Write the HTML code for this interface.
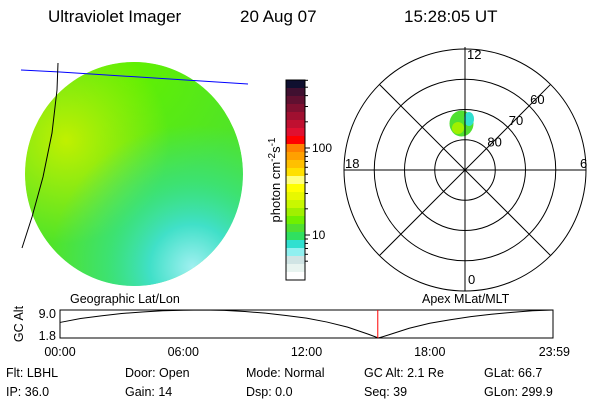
<!DOCTYPE html>
<html><head><meta charset="utf-8"><style>
body{margin:0;background:#fff;width:600px;height:400px;overflow:hidden}
svg{font-family:"Liberation Sans",sans-serif}
</style></head><body>
<svg id="c" width="600" height="400" xmlns="http://www.w3.org/2000/svg">
<defs>
<radialGradient id="g1" cx="0.2" cy="0.35" r="0.45"><stop offset="0" stop-color="#c0f000"/><stop offset="1" stop-color="#c0f000" stop-opacity="0"/></radialGradient>
<radialGradient id="g0" cx="0.5" cy="0.05" r="0.5"><stop offset="0" stop-color="#60f000"/><stop offset="1" stop-color="#60f000" stop-opacity="0"/></radialGradient>
<radialGradient id="g2" cx="0.75" cy="0.9" r="0.62"><stop offset="0" stop-color="#a0f0f0"/><stop offset="0.3" stop-color="#40e0c8"/><stop offset="0.6" stop-color="#30e0a0" stop-opacity="0.6"/><stop offset="1" stop-color="#30e0a0" stop-opacity="0"/></radialGradient>
<clipPath id="dc"><ellipse cx="134" cy="174" rx="109" ry="112"/></clipPath>
</defs>
<g font-size="17" fill="#000">
<text x="48" y="22">Ultraviolet Imager</text>
<text x="240" y="22">20 Aug 07</text>
<text x="404" y="22">15:28:05 UT</text>
</g>
<g clip-path="url(#dc)">
<ellipse cx="134" cy="174" rx="109" ry="112" fill="#50e428"/>
<rect x="20" y="60" width="230" height="230" fill="url(#g0)"/>
<rect x="20" y="60" width="230" height="230" fill="url(#g1)"/>
<rect x="20" y="60" width="230" height="230" fill="url(#g2)"/>
</g>
<polyline points="21,70 60,72 248,84" fill="none" stroke="#0000ff" stroke-width="1"/>
<polyline points="58,63 57,90 52,133 43,177 32,217 22,248" fill="none" stroke="#000" stroke-width="1"/>
<g id="cbar"></g>
<text transform="translate(280,180) rotate(-90)" text-anchor="middle" font-size="13">photon cm<tspan dy="-5" font-size="10">-2</tspan><tspan dy="5">s</tspan><tspan dy="-5" font-size="10">-1</tspan></text>
<g id="polar"></g>
<g id="tl"></g>
<g font-size="12.5">
<text x="6" y="377">Flt: LBHL</text><text x="125" y="377">Door: Open</text><text x="246" y="377">Mode: Normal</text><text x="364" y="377">GC Alt: 2.1 Re</text><text x="484" y="377">GLat:  66.7</text>
<text x="6" y="396">IP: 36.0</text><text x="125" y="396">Gain: 14</text><text x="246" y="396">Dsp:     0.0</text><text x="364" y="396">Seq: 39</text><text x="484" y="396">GLon: 299.9</text>
</g>
</svg>
<script>
const NS="http://www.w3.org/2000/svg";
function mk(p,t,a,txt){const e=document.createElementNS(NS,t);for(const k in a)e.setAttribute(k,a[k]);if(txt!==undefined)e.textContent=txt;p.appendChild(e);return e;}
// colorbar
const cbColors=["#101030","#401030","#601030","#801030","#a01030","#c01030","#e01030","#ff0000","#ff8000","#ffa000","#ffc000","#ffe000","#ffff80","#ffff00","#e8f800","#c8f800","#a0f000","#70f000","#50e030","#30e060","#30e0d0","#90f0f0","#d0e4e4","#e8f4f0","#ffffff"];
const cbTickLabels=["100","10"];
const cbTickVals=[100,10];
const cb=document.getElementById('cbar');
const cbTop=80,cbBot=280,bh=(cbBot-cbTop)/cbColors.length;
cbColors.forEach((c,i)=>{const r=mk(cb,'rect',{x:286,y:cbTop+i*bh,width:19,height:bh+0.5,fill:c});

});
mk(cb,'rect',{x:286,y:cbTop,width:19,height:200,fill:'none',stroke:'#000'});
function cbY(v){return 148+(2-Math.log10(v))*(235-148);}
[5,6,7,8,9,20,30,40,50,60,70,80,90,200,300,400,500,600].forEach(v=>{const y=cbY(v);if(y>cbTop&&y<cbBot)mk(cb,'line',{x1:305,x2:308,y1:y,y2:y,stroke:'#000'});});
cbTickVals.forEach((v,i)=>{const y=cbY(v);mk(cb,'line',{x1:305,x2:310,y1:y,y2:y,stroke:'#000'});
const t=mk(cb,'text',{x:312,y:y+4,'font-size':12},cbTickLabels[i]);

});
// polar
const latCircles=[80,70,60,50];
const latLabels=["80","70","60"];
const mltLabels=["12","6","0","18"];
const P=document.getElementById('polar');const pcx=465,pcy=170,pr=121;
function rad(lat){return (90-lat)/40*pr;}
mk(P,'ellipse',{cx:461.5,cy:123.5,rx:12,ry:13,fill:'#50e030'});
mk(P,'ellipse',{cx:458,cy:128,rx:6,ry:6,fill:'#a0f000'});
mk(P,'ellipse',{cx:469,cy:119,rx:5,ry:7,fill:'#30e0d0'});
latCircles.forEach(l=>{const c=mk(P,'circle',{cx:pcx,cy:pcy,r:rad(l),fill:'none',stroke:'#000'});

});
mk(P,'line',{x1:pcx,x2:pcx,y1:pcy-pr-2,y2:pcy+pr,stroke:'#000'});
mk(P,'line',{x1:pcx-pr,x2:pcx+pr,y1:pcy,y2:pcy,stroke:'#000'});
const d=pr*Math.SQRT1_2;
mk(P,'line',{x1:pcx-d,y1:pcy-d,x2:pcx+d,y2:pcy+d,stroke:'#000'});
mk(P,'line',{x1:pcx-d,y1:pcy+d,x2:pcx+d,y2:pcy-d,stroke:'#000'});
latLabels.forEach((s,i)=>{const r=rad(latCircles[i]);const t=mk(P,'text',{x:pcx+r*0.707+1,y:pcy-r*0.707-2,'font-size':13,fill:'#000'},s);

});
[[467,59],[580,168],[468,284],[345,168]].forEach((p,i)=>{const t=mk(P,'text',{x:p[0],y:p[1],'font-size':13,fill:'#000'},mltLabels[i]);

});
// timeline
const hours=[0,1,2,3,4,5,6,7,8,9,10,11,12,13,14,15,15.5,16,17,18,19,20,21,22,23,24];
const altRe=[5.8,6.8,7.5,8.1,8.5,8.8,8.95,9.0,8.9,8.6,8.2,7.6,6.9,5.9,4.6,2.8,1.8,2.6,4.3,5.6,6.5,7.3,7.9,8.4,8.8,9.0];
const timeLabels=["00:00","06:00","12:00","18:00","23:59"];
const timeTicks=[0,6,12,18,24];
const altTicks=[9.0,1.8];
const currentHour=15.47;
const T=document.getElementById('tl');const x0=60,x1=553,y0=310,y1=338;
const xs=h=>x0+h/24*(x1-x0);const ys=v=>y1-(v-1.8)/(9.0-1.8)*(y1-y0);
mk(T,'rect',{x:x0,y:y0,width:x1-x0,height:y1-y0,fill:'none',stroke:'#000'});
const pl=mk(T,'polyline',{points:hours.map((h,i)=>xs(h)+','+ys(altRe[i])).join(' '),fill:'none',stroke:'#000'});


const rl=mk(T,'line',{x1:xs(currentHour),x2:xs(currentHour),y1:y0,y2:y1,stroke:'#ff0000'});


altTicks.forEach(v=>{const t=mk(T,'text',{x:56,y:ys(v)+(v>5?8:2),'text-anchor':'end','font-size':12.5},v.toFixed(1));

});
timeTicks.forEach((h,i)=>{const t=mk(T,'text',{x:xs(h)+(i==4?17:0),y:356,'text-anchor':i==4?'end':'middle','font-size':12.5},timeLabels[i]);

});
const ya=mk(T,'text',{transform:'translate(23,324) rotate(-90)','text-anchor':'middle','font-size':12.5},'GC Alt');


const gl=mk(T,'text',{x:70,y:303,'font-size':12.5},'Geographic Lat/Lon');


const al=mk(T,'text',{x:422,y:303,'font-size':12.5},'Apex  MLat/MLT');


</script>
</body></html>
